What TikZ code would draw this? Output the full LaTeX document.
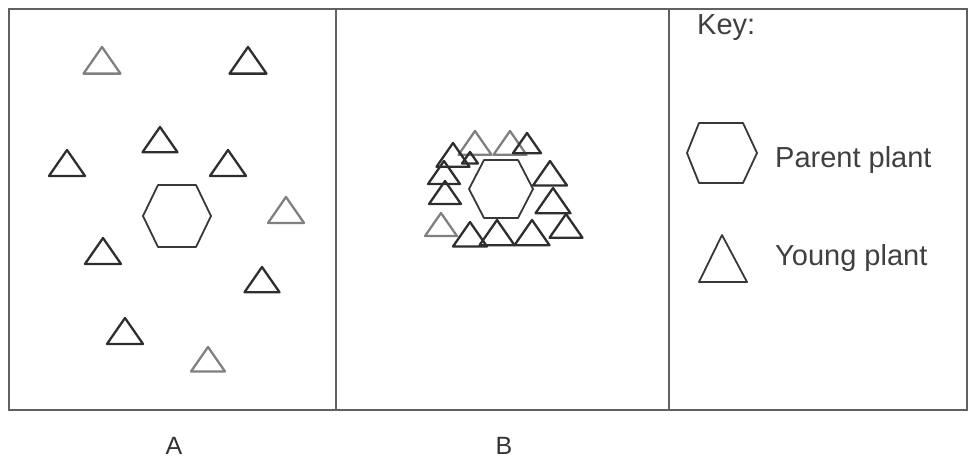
\documentclass[tikz,border=0pt]{standalone}
\usepackage{fontspec}
\setmainfont{Liberation Sans}
\newcommand\ytri[4][tri]{\draw[#1] (#2,#3) -- ++(#4/2,#4*0.72) -- ++(-#4,0) -- cycle;}
\begin{document}
\begin{tikzpicture}[x=1pt,y=-1pt,
  frame/.style={draw=black!62, line width=1.6pt},
  tri/.style={draw=black!82, line width=2.3pt, line join=round},
  ltri/.style={draw=black!50, line width=2.3pt, line join=round},
  hex/.style={draw=black!78, line width=1.8pt, line join=round},
  lbl/.style={font=\fontsize{29}{31}\selectfont, text=black!75, anchor=west, inner sep=0pt},
  plbl/.style={font=\fontsize{25}{27}\selectfont, text=black!80, inner sep=0pt}]
\useasboundingbox (0,0) rectangle (969,461);
% frame and dividers
\draw[frame] (9,9) rectangle (967,410);
\draw[frame] (336,9) -- (336,410);
\draw[frame] (669,9) -- (669,410);
% panel A
\draw[hex] (143,216) -- (158,185) -- (196,185) -- (211,216) -- (196,247) -- (158,247) -- cycle;
\ytri[ltri]{102}{47}{37}
\ytri{248}{47}{37}
\ytri{160}{127}{35}
\ytri{67}{150}{36}
\ytri{228}{150}{36}
\ytri[ltri]{286}{197}{36}
\ytri{103}{238}{36}
\ytri{262}{267}{35}
\ytri{125}{318}{36}
\ytri[ltri]{208}{347}{34}
% panel B
\ytri[ltri]{475}{131}{33}
\ytri[ltri]{510}{131}{33}
\ytri{527}{133}{28}
\ytri{453}{143}{33}
\ytri{470}{152}{16}
\ytri{444}{161}{32}
\ytri{445}{181}{32}
\ytri[ltri]{441}{213}{32}
\ytri{470}{222}{34}
\ytri{497}{220}{35}
\ytri{532}{220}{35}
\ytri{550}{161}{34}
\ytri{553}{188}{35}
\ytri{566}{214}{33}
\draw[hex] (469,189) -- (484,160) -- (518,160) -- (533,189) -- (518,218) -- (484,218) -- cycle;
% key
\node[lbl] (key) at (697,28) {Key:};
\draw[hex] (687,153) -- (699,123) -- (743,123) -- (757,153) -- (743,183) -- (699,183) -- cycle;
\node[lbl] (parent) at (775,160) {Parent plant};
\draw[hex] (722,235) -- (747,282) -- (699,282) -- cycle;
\node[lbl] (young) at (775,258) {Young plant};
% panel labels
\node[plbl] (la) at (174,446) {A};
\node[plbl] (lb) at (504,446) {B};
\end{tikzpicture}
\end{document}
